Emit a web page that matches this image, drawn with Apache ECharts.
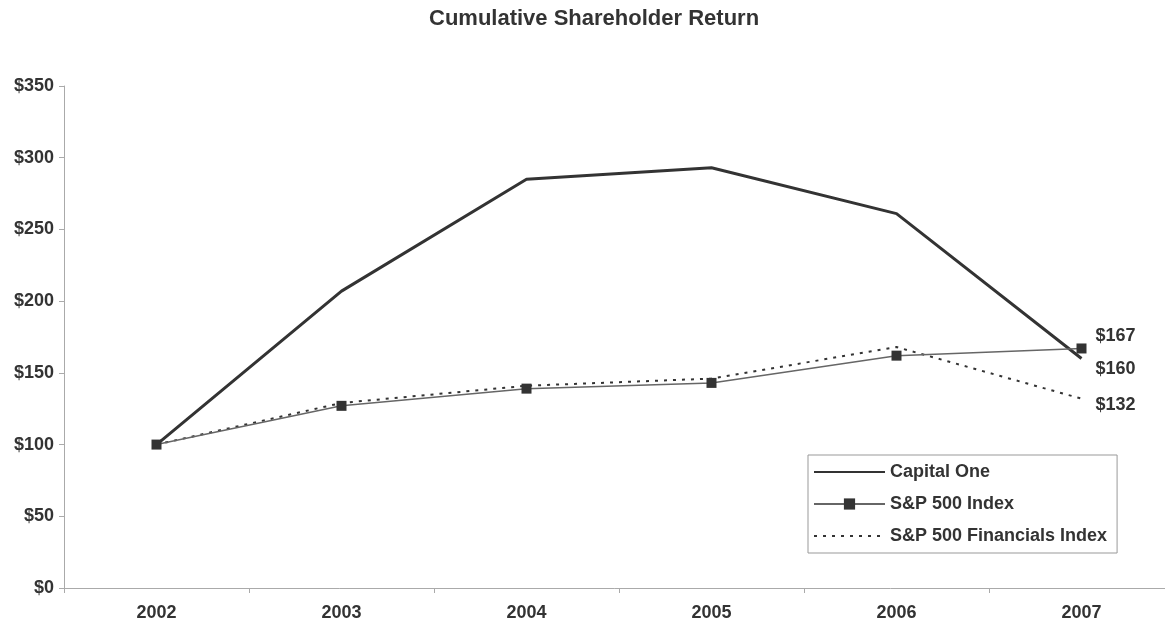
<!DOCTYPE html>
<html>
<head>
<meta charset="utf-8">
<script src="https://cdn.jsdelivr.net/npm/echarts@6/dist/echarts.min.js"></script>
<style>
html,body{margin:0;padding:0;background:#fff;}
#chart{width:1165px;height:624px;}
</style>
</head>
<body>
<div id="chart"></div>
<script>
const years = ['2002', '2003', '2004', '2005', '2006', '2007'];
const capitalOne = [100, 207, 285, 293, 261, 160];
const sp500 = [100, 127, 139, 143, 162, 167];
const spFinancials = [100, 129, 141, 146, 168, 132];
const yTicks = [0, 50, 100, 150, 200, 250, 300, 350];

const txt = '#333';
const font = 'Liberation Sans, Arial, sans-serif';
const chart = echarts.init(document.getElementById('chart'));

function endLabel(dy) {
  return {
    show: true,
    formatter: p => '$' + p.value,
    color: txt, fontFamily: font, fontWeight: 'bold', fontSize: 18,
    distance: 14, offset: [0, dy]
  };
}

chart.setOption({
  animation: false,
  backgroundColor: '#fff',
  title: {
    text: 'Cumulative Shareholder Return',
    left: 424, top: 3,
    textStyle: {color: txt, fontFamily: font, fontWeight: 'bold', fontSize: 22}
  },
  legend: {
    orient: 'vertical', left: 808, top: 455,
    borderColor: '#999', borderWidth: 1,
    padding: [8, 10, 8, 5],
    itemWidth: 71, itemHeight: 14, itemGap: 14,
    textStyle: {color: txt, fontFamily: font, fontWeight: 'bold', fontSize: 18},
    data: [
      {name: 'Capital One', itemStyle: {opacity: 0}},
      {name: 'S&P 500 Index'},
      {name: 'S&P 500 Financials Index', itemStyle: {opacity: 0}}
    ]
  },
  grid: {left: 64, right: -9, top: 86, bottom: 36, containLabel: false, outerBoundsMode: 'none'},
  xAxis: {
    type: 'category', data: years, boundaryGap: true,
    axisLine: {lineStyle: {color: '#aaa', width: 1}},
    axisTick: {show: true, length: 5, lineStyle: {color: '#aaa'}},
    axisLabel: {color: txt, fontFamily: font, fontWeight: 'bold', fontSize: 18, margin: 16}
  },
  yAxis: {
    type: 'value', min: yTicks[0], max: yTicks[yTicks.length - 1], interval: 50,
    axisLine: {show: true, lineStyle: {color: '#aaa', width: 1}},
    axisTick: {show: true, length: 5, lineStyle: {color: '#aaa'}},
    splitLine: {show: false},
    axisLabel: {color: txt, fontFamily: font, fontWeight: 'bold', fontSize: 18, margin: 10,
      formatter: v => '$' + v}
  },
  series: [
    {
      name: 'Capital One', type: 'line', data: capitalOne,
      symbol: 'none', z: 3,
      lineStyle: {color: '#333', width: 3},
      itemStyle: {color: '#333'},
      endLabel: endLabel(11)
    },
    {
      name: 'S&P 500 Index', type: 'line', data: sp500,
      symbol: 'rect', symbolSize: 10, showSymbol: true, z: 4,
      lineStyle: {color: '#666', width: 1.5},
      itemStyle: {color: '#333'},
      endLabel: endLabel(-12)
    },
    {
      name: 'S&P 500 Financials Index', type: 'line', data: spFinancials,
      symbol: 'none', z: 2,
      lineStyle: {color: '#333', width: 2, type: [3, 6]},
      itemStyle: {color: '#333'},
      endLabel: endLabel(6)
    }
  ]
});
</script>
</body>
</html>
